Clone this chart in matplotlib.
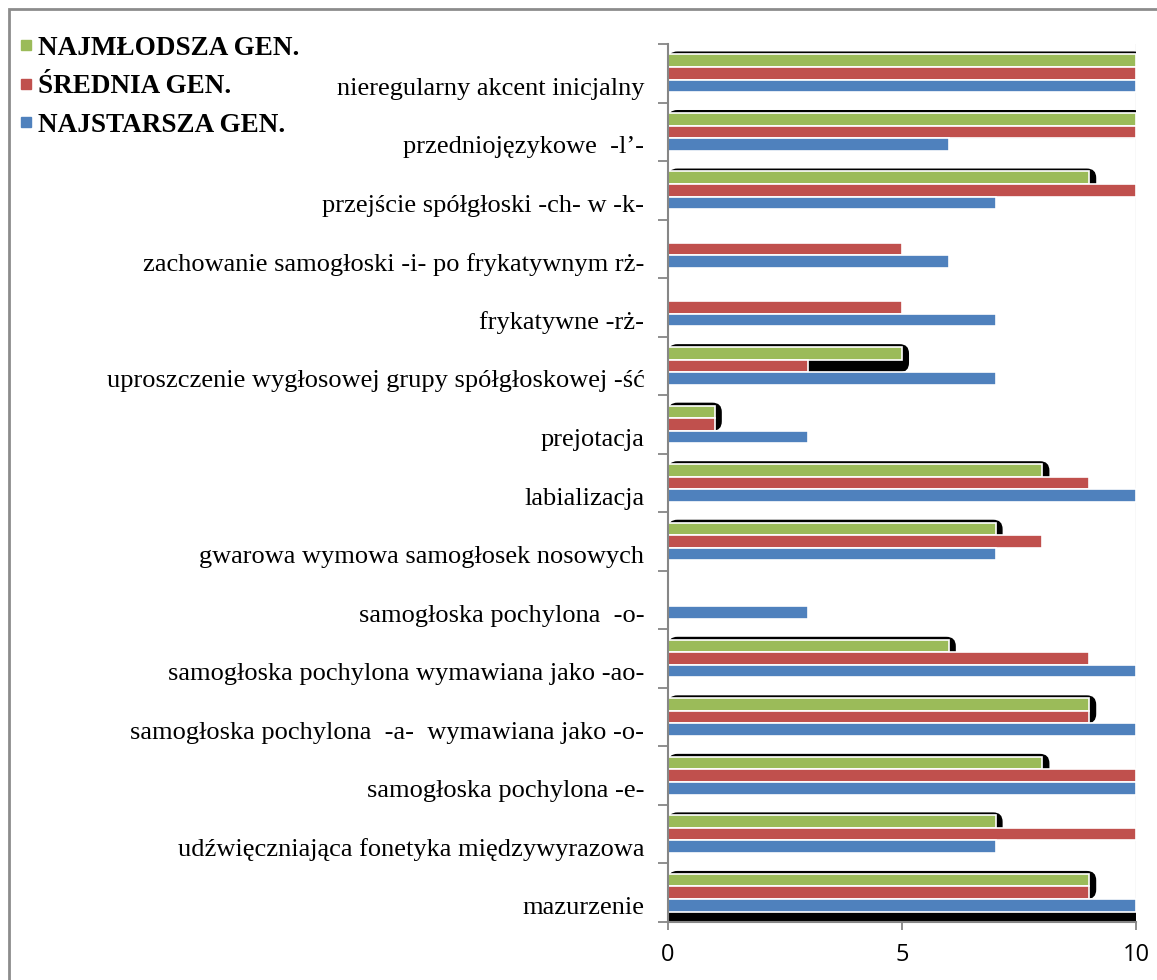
import matplotlib
matplotlib.use("Agg")
import matplotlib.pyplot as plt
from matplotlib.patches import FancyBboxPatch, Rectangle
from matplotlib.lines import Line2D
import matplotlib.transforms as mtransforms
import numpy as np

categories = [
    "nieregularny akcent inicjalny",
    "przedniojęzykowe  -l’-",
    "przejście spółgłoski -ch- w -k-",
    "zachowanie samogłoski -i- po frykatywnym rż-",
    "frykatywne -rż-",
    "uproszczenie wygłosowej grupy spółgłoskowej -ść",
    "prejotacja",
    "labializacja",
    "gwarowa wymowa samogłosek nosowych",
    "samogłoska pochylona  -o-",
    "samogłoska pochylona wymawiana jako -ao-",
    "samogłoska pochylona  -a-  wymawiana jako -o-",
    "samogłoska pochylona -e-",
    "udźwięczniająca fonetyka międzywyrazowa",
    "mazurzenie",
]
najmlodsza = [10, 10, 9, 0, 0, 5, 1, 8, 7, 0, 6, 9, 8, 7, 9]
srednia    = [10, 10, 10, 5, 5, 3, 1, 9, 8, 0, 9, 9, 10, 10, 9]
najstarsza = [10, 6, 7, 6, 7, 7, 3, 10, 7, 3, 10, 10, 10, 7, 10]
series_names = ["NAJMŁODSZA GEN.", "ŚREDNIA GEN.", "NAJSTARSZA GEN."]
colors = ["#9BBB59", "#C0504D", "#4F81BD"]
xticks = [0, 5, 10]

W, H = 1157, 980
fig = plt.figure(figsize=(W / 100, H / 100), dpi=100)
left, right, top, bottom = 668, 1136, 44, 922
ax = fig.add_axes([left / W, 1 - bottom / H, (right - left) / W, (bottom - top) / H])

n = len(categories)
pos = np.arange(n)[::-1].astype(float)  # top category has the highest y
h = 0.215
ax.set_ylim(-0.5, n - 0.5)
ax.set_xlim(0, 10)

# shadow artifacts behind youngest generation bars
for p, g in zip(pos, najmlodsza):
    if g > 0:
        y0 = p - h * 0.5
        y1 = p + h * 1.5 + 0.05
        box = FancyBboxPatch((0, y0), g + 0.15, y1 - y0,
                             boxstyle="round,pad=0,rounding_size=0.2",
                             mutation_aspect=0.8, facecolor="black",
                             edgecolor="none", zorder=1, clip_on=True)
        ax.add_patch(box)
# black strip under the last category
ax.add_patch(Rectangle((0, -0.5), 10, (pos[-1] - 1.5 * h) - (-0.5),
                       facecolor="black", edgecolor="none", zorder=1))

for vals, off, col in zip([najmlodsza, srednia, najstarsza], [h, 0, -h], colors):
    ax.barh(pos + off, vals, height=h, color=col, edgecolor="white",
            linewidth=1.2, zorder=2)

ax.axvline(10, color="#e0e0e0", linewidth=1, zorder=0)

ax.set_yticks(pos)
ax.set_yticklabels(categories, fontfamily="Liberation Serif", fontsize=19)
ax.tick_params(axis="y", length=0, pad=17)
shift = mtransforms.ScaledTranslation(0, -13 / 100, fig.dpi_scale_trans)
for lab in ax.get_yticklabels():
    lab.set_transform(lab.get_transform() + shift)
ax.set_yticks(np.arange(n + 1) - 0.5, minor=True)
ax.tick_params(axis="y", which="minor", length=7, color="#868686", width=1.3, direction="out")

ax.set_xticks(xticks)
ax.set_xticklabels([str(t) for t in xticks], fontfamily="Open Sans", fontsize=17)
ax.tick_params(axis="x", length=6, color="#868686", width=1.3, direction="out", pad=9)

for s in ["top", "right"]:
    ax.spines[s].set_visible(False)
for s in ["left", "bottom"]:
    ax.spines[s].set_color("#868686")
    ax.spines[s].set_linewidth(1.5)

handles = [Line2D([], [], marker="s", linestyle="none", markersize=7.5,
                  markerfacecolor=c, markeredgecolor=c) for c in colors]
fig.legend(handles, series_names, loc="upper left",
           bbox_to_anchor=(8 / W, 1 - 25 / H), frameon=False,
           prop={"family": "Liberation Serif", "weight": "bold", "size": 19.5},
           handlelength=0.55, handletextpad=0.15, labelspacing=0.5,
           borderaxespad=0)

fig.add_artist(Rectangle((9 / W, -0.01), 1.2, 1 - 9 / H + 0.01,
                         transform=fig.transFigure, fill=False,
                         edgecolor="#8c8c8c", linewidth=2))

fig.savefig("out.png", dpi=100)
